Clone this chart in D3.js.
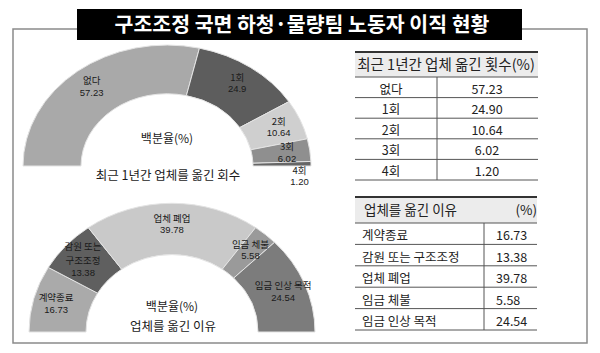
<!DOCTYPE html>
<html>
<head>
<meta charset="utf-8">
<script src="https://cdn.jsdelivr.net/npm/d3@7"></script>
<style>
  body { margin: 0; background: #fff; }
  svg { display: block; font-family: "Noto Sans CJK KR", "Noto Sans", sans-serif; }
  .num { font-family: "Liberation Sans", Arial, sans-serif; }
</style>
</head>
<body>
<svg id="vis"></svg>
<script>
// 최근 1년간 업체 옮긴 횟수
const moveCats = ["없다", "1회", "2회", "3회", "4회"];
const moveShares = [57.23, 24.9, 10.64, 6.02, 1.20];
const moveChartText = ["57.23", "24.9", "10.64", "6.02", "1.20"];
const moveTableText = ["57.23", "24.90", "10.64", "6.02", "1.20"];

// 업체를 옮긴 이유
const reasonCats = ["계약종료", "감원 또는 구조조정", "업체 폐업", "임금 체불", "임금 인상 목적"];
const reasonChartLines = [["계약종료"], ["감원 또는", "구조조정"], ["업체 폐업"], ["임금 체불"], ["임금 인상 목적"]];
const reasonShares = [16.73, 13.38, 39.78, 5.58, 24.54];
const reasonTableText = ["16.73", "13.38", "39.78", "5.58", "24.54"];

const WIDTH = 600;
const HEIGHT = 353;

const svg = d3.select("#vis")
    .attr("width", WIDTH)
    .attr("height", HEIGHT);

// 바깥 테두리
svg.append("rect")
    .attr("x", 13).attr("y", 29)
    .attr("width", 574).attr("height", 314)
    .attr("fill", "none")
    .attr("stroke", "#8a8a8a")
    .attr("stroke-width", 1.5);

const isNum = s => /^[0-9.]+$/.test(s);

// 반원 도넛 그리기
function halfDonut(opts) {
    const g = svg.append("g");
    const pie = d3.pie().sort(null)
        .startAngle(-Math.PI / 2).endAngle(Math.PI / 2);
    const arcs = pie(opts.values);
    const arc = d3.arc().innerRadius(opts.r0).outerRadius(opts.r1);
    // 라벨 위치용 (조금 바깥쪽)
    const labelArc = d3.arc().innerRadius(opts.rl).outerRadius(opts.rl);

    g.append("g")
        .attr("transform", `translate(${opts.cx},${opts.cy}) scale(1,${opts.sy})`)
        .selectAll("path")
        .data(arcs)
        .join("path")
        .attr("d", arc)
        .attr("fill", (d, i) => opts.colors[i])
        .attr("stroke", "#e4e4e4")
        .attr("stroke-width", 1)
        .attr("vector-effect", "non-scaling-stroke");

    const labels = g.append("g")
        .attr("font-size", opts.fs)
        .attr("fill", "#1a1a1a")
        .attr("text-anchor", "middle");

    const fs = opts.fs;
    arcs.forEach((d, i) => {
        let [x, y] = labelArc.centroid(d);
        x = opts.cx + x;
        y = opts.cy + y * opts.sy;
        if (opts.outside && opts.outside(i)) {
            // 너무 얇은 조각은 바깥 아래쪽에
            x = opts.cx + opts.r1 * 0.92;
            y = opts.cy + 10;
        }
        const lines = opts.lines(i);
        // 줄 간격: 숫자 줄은 조금 좁게
        const gaps = lines.slice(1).map(s => isNum(s) ? fs * 1.22 : fs * 1.46);
        const total = d3.sum(gaps);
        let yy = y - total / 2 + fs * 0.35;
        lines.forEach((s, k) => {
            if (k > 0) yy += gaps[k - 1];
            labels.append("text")
                .attr("class", isNum(s) ? "num" : null)
                .attr("x", x)
                .attr("y", yy)
                .text(s);
        });
    });

    g.append("text")
        .attr("x", opts.cx).attr("y", opts.midY)
        .attr("text-anchor", "middle")
        .attr("font-size", 12)
        .attr("fill", "#1a1a1a")
        .text("백분율(%)");

    g.append("text")
        .attr("x", opts.cx + 1).attr("y", opts.subY)
        .attr("text-anchor", "middle")
        .attr("font-size", 12.5)
        .attr("fill", "#1a1a1a")
        .text(opts.subtitle);
}

halfDonut({
    cx: 167, cy: 166, r0: 86, r1: 144, rl: 121, sy: 0.84,
    values: moveShares,
    colors: ["#a9a9a9", "#5d5d5d", "#cfcfcf", "#8f8f8f", "#666666"],
    lines: i => [moveCats[i], moveChartText[i]],
    outside: i => i === moveCats.length - 1,
    fs: 9.5,
    midY: 143, subY: 180,
    subtitle: "최근 1년간 업체를 옮긴 회수"
});

halfDonut({
    cx: 172, cy: 332, r0: 86, r1: 143, rl: 120, sy: 0.9,
    values: reasonShares,
    colors: ["#aaaaaa", "#5f5f5f", "#c9c9c9", "#9a9a9a", "#7c7c7c"],
    lines: i => reasonChartLines[i].concat([reasonTableText[i]]),
    fs: 9.5,
    midY: 311, subY: 331,
    subtitle: "업체를 옮긴 이유"
});

// 제목 상자
svg.append("rect")
    .attr("x", 77).attr("y", 9)
    .attr("width", 445).attr("height", 31)
    .attr("fill", "#000");
svg.append("text")
    .attr("x", 302).attr("y", 32)
    .attr("text-anchor", "middle")
    .attr("font-size", 20.5)
    .attr("font-weight", "bold")
    .attr("fill", "#fff")
    .text("구조조정 국면 하청·물량팀 노동자 이직 현황");

// 표 그리기
function table(opts) {
    const g = svg.append("g");
    const n = opts.cats.length;
    const y = d3.scaleLinear().domain([0, n]).range([opts.headBottom, opts.bottom]);

    g.append("rect")
        .attr("x", opts.x0).attr("y", opts.top)
        .attr("width", opts.x1 - opts.x0).attr("height", opts.headBottom - opts.top)
        .attr("fill", "#ececec");

    g.append("line")
        .attr("x1", opts.x0).attr("x2", opts.x1)
        .attr("y1", opts.top).attr("y2", opts.top)
        .attr("stroke", "#333").attr("stroke-width", 2);

    g.selectAll("line.row")
        .data(d3.range(n + 1))
        .join("line")
        .attr("class", "row")
        .attr("x1", opts.x0).attr("x2", opts.x1)
        .attr("y1", i => y(i)).attr("y2", i => y(i))
        .attr("stroke", "#555").attr("stroke-width", 1);

    g.append("line")
        .attr("x1", opts.xDiv).attr("x2", opts.xDiv)
        .attr("y1", opts.headBottom).attr("y2", opts.bottom)
        .attr("stroke", "#555").attr("stroke-width", 1);

    opts.header(g);

    g.selectAll("text.cat")
        .data(opts.cats)
        .join("text")
        .attr("class", "cat")
        .attr("x", opts.catX)
        .attr("y", (d, i) => y(i + 1) - 4)
        .attr("text-anchor", opts.catAnchor)
        .attr("font-size", 12.5)
        .attr("fill", "#222")
        .text(d => d);

    g.selectAll("text.val")
        .data(opts.vals)
        .join("text")
        .attr("class", "val")
        .attr("x", opts.valX)
        .attr("y", (d, i) => y(i + 1) - 4)
        .attr("text-anchor", opts.valAnchor)
        .attr("font-size", 12.5)
        .attr("fill", "#222")
        .text(d => d);
}

table({
    cats: moveCats, vals: moveTableText,
    x0: 355, x1: 538, xDiv: 437,
    top: 52, headBottom: 77, bottom: 180,
    catX: 391, catAnchor: "middle",
    valX: 487, valAnchor: "middle",
    header: g => g.append("text")
        .attr("x", 446).attr("y", 70)
        .attr("text-anchor", "middle")
        .attr("font-size", 14.5)
        .attr("fill", "#222")
        .text("최근 1년간 업체 옮긴 횟수(%)")
});

table({
    cats: reasonCats, vals: reasonTableText,
    x0: 355, x1: 537, xDiv: 484,
    top: 197, headBottom: 223, bottom: 330,
    catX: 362, catAnchor: "start",
    valX: 496, valAnchor: "start",
    header: g => {
        g.append("text")
            .attr("x", 364).attr("y", 215)
            .attr("font-size", 13.5)
            .attr("fill", "#222")
            .text("업체를 옮긴 이유");
        g.append("text")
            .attr("x", 537).attr("y", 215)
            .attr("text-anchor", "end")
            .attr("font-size", 13.5)
            .attr("fill", "#222")
            .text("(%)");
    }
});
</script>
</body>
</html>
